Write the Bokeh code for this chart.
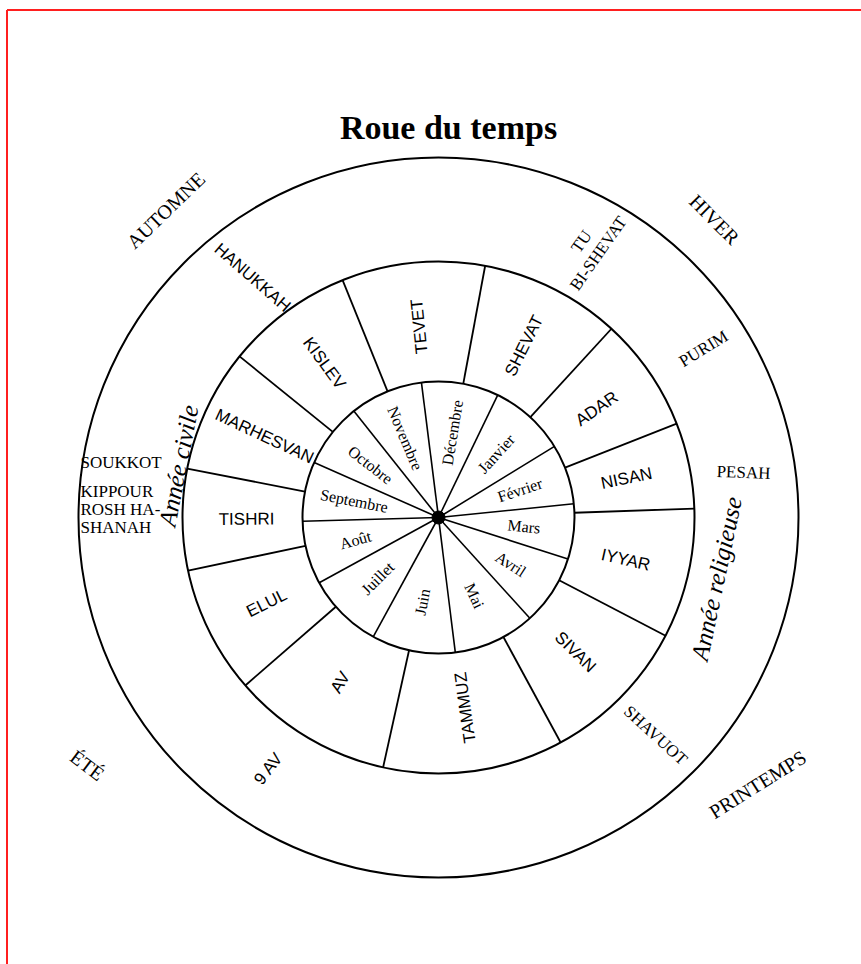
import math
from bokeh.plotting import figure
from bokeh.models import Range1d, ColumnDataSource
from bokeh.core.properties import value
from bokeh.embed import file_html
from bokeh.resources import INLINE

# ---------------- data ----------------
title_text = "Roue du temps"

# Hebrew (religious) months, clockwise from the top; start angle of each cell (degrees, clockwise from 12 o'clock)
hebrew_months = ["TEVET", "SHEVAT", "ADAR", "NISAN", "IYYAR", "SIVAN",
                 "TAMMUZ", "AV", "ELUL", "TISHRI", "MARHESVAN", "KISLEV"]
hebrew_start = [338.0, 10.5, 42.5, 68.5, 88.0, 117.5,
                151.5, 192.5, 229.0, 258.0, 281.0, 309.0]

# Civil months, clockwise from the top; start angle of each sector
civil_months = ["Décembre", "Janvier", "Février", "Mars", "Avril", "Mai",
                "Juin", "Juillet", "Août", "Septembre", "Octobre", "Novembre"]
civil_start = [352.8, 25.8, 58.5, 84.2, 107.8, 137.8,
               172.9, 208.7, 241.3, 268.4, 293.9, 321.5]

# Festivals in the outer ring (angle clockwise from top, distance from centre, text rotation)
festivals = ["HANUKKAH", "BI-SHEVAT", "TU", "PURIM", "PESAH", "SHAVUOT", "9 AV"]
festival_angle = [322.2, 31.2, 27.4, 57.5, 81.6, 135.1, 214.1]
festival_radius = [303.6, 308.7, 310.8, 314.3, 308.3, 307.6, 303.2]
festival_rot = [-41.0, 55.0, 55.0, 31.5, -2.0, -42.5, 52.0]
festival_sans = [True, False, False, False, False, False, True]

# Autumn festivals block (left side)
autumn_lines = ["SOUKKOT", "KIPPOUR", "ROSH HA-", "SHANAH"]

# Seasons, outside the wheel
seasons = ["AUTOMNE", "HIVER", "PRINTEMPS", "ÉTÉ"]
season_angle = [318.4, 42.8, 129.9, 234.8]
season_radius = [410.8, 406.2, 416.0, 429.8]
season_rot = [44.0, -45.0, 32.0, -37.0]

# Year captions
years = ["Année civile", "Année religieuse"]
year_angle = [281.3, 102.4]
year_radius = [265.1, 284.6]
year_rot = [79.0, 78.0]

# ---------------- layout ----------------
W, H = 861, 964
CX, CY = 438.0, 447.0          # wheel centre
R_OUT, R_MID, R_IN = 360.0, 256.0, 136.0
R_HEB_LABEL, R_CIV_LABEL = 192.0, 86.0
SERIF = "Liberation Serif"
SANS = "Liberation Sans"


def polar(cw_deg, r):
    a = math.radians(cw_deg)
    return CX + r * math.sin(a), CY + r * math.cos(a)


def mid_angle(starts, i):
    s = starts[i]
    e = starts[(i + 1) % len(starts)]
    span = (e - s) % 360.0
    return (s + span / 2.0) % 360.0


def label_rotation(cw_deg):
    ang = 90.0 - cw_deg
    if 160.0 < cw_deg < 345.0:
        ang += 180.0
    return math.radians(ang)


p = figure(width=W, height=H, x_range=Range1d(0, W), y_range=Range1d(0, H),
           output_backend="svg", toolbar_location=None, min_border=0,
           x_axis_type=None, y_axis_type=None)
p.grid.visible = False
p.outline_line_color = None
p.background_fill_color = "white"
p.border_fill_color = "white"

# red frame (top and left edges)
p.segment(x0=[6.5, 6.5], y0=[954.5, 0], x1=[W, 6.5], y1=[954.5, 954.5],
          line_color="#ff1f1f", line_width=2)

# circles
p.circle(x=[CX] * 3, y=[CY] * 3, radius=[R_OUT, R_MID, R_IN],
         fill_color=None, line_color="black", line_width=2)

# hebrew month cell borders
hx0, hy0, hx1, hy1 = [], [], [], []
for a in hebrew_start:
    x0, y0 = polar(a, R_IN)
    x1, y1 = polar(a, R_MID)
    hx0.append(x0); hy0.append(y0); hx1.append(x1); hy1.append(y1)
p.segment(x0=hx0, y0=hy0, x1=hx1, y1=hy1, line_color="black", line_width=1.8)

# civil month spokes
cx0, cy0, cx1, cy1 = [], [], [], []
for a in civil_start:
    x1, y1 = polar(a, R_IN)
    cx0.append(CX); cy0.append(CY); cx1.append(x1); cy1.append(y1)
p.segment(x0=cx0, y0=cy0, x1=cx1, y1=cy1, line_color="black", line_width=1.6)

p.scatter(x=[CX], y=[CY], size=13, color="black")

# hebrew labels
hl = dict(x=[], y=[], t=[], a=[])
for i, name in enumerate(hebrew_months):
    m = mid_angle(hebrew_start, i)
    x, y = polar(m, R_HEB_LABEL)
    hl["x"].append(x); hl["y"].append(y); hl["t"].append(name)
    hl["a"].append(label_rotation(m))
p.text(x="x", y="y", text="t", angle="a", source=ColumnDataSource(hl),
       text_font=value(SANS), text_font_size="17px", text_align="center",
       text_baseline="middle", text_color="black")

# civil labels
cl = dict(x=[], y=[], t=[], a=[])
for i, name in enumerate(civil_months):
    m = mid_angle(civil_start, i)
    x, y = polar(m, R_CIV_LABEL)
    cl["x"].append(x); cl["y"].append(y); cl["t"].append(name)
    cl["a"].append(label_rotation(m))
p.text(x="x", y="y", text="t", angle="a", source=ColumnDataSource(cl),
       text_font=value(SERIF), text_font_size="16px", text_align="center",
       text_baseline="middle", text_color="black")

# festivals
for i, name in enumerate(festivals):
    x, y = polar(festival_angle[i], festival_radius[i])
    p.text(x=[x], y=[y], text=[name], angle=[math.radians(festival_rot[i])],
           text_font=value(SANS if festival_sans[i] else SERIF),
           text_font_size="17px", text_align="center", text_baseline="middle",
           text_color="black")

# autumn block
ay = [502, 473, 455, 437]
p.text(x=[80] * 4, y=ay, text=autumn_lines, text_font=value(SERIF),
       text_font_size="17px", text_align="left", text_baseline="middle",
       text_color="black")

# seasons
sl = dict(x=[], y=[], t=[], a=[])
for i, name in enumerate(seasons):
    x, y = polar(season_angle[i], season_radius[i])
    sl["x"].append(x); sl["y"].append(y); sl["t"].append(name)
    sl["a"].append(math.radians(season_rot[i]))
p.text(x="x", y="y", text="t", angle="a", source=ColumnDataSource(sl),
       text_font=value(SERIF), text_font_size="20px", text_align="center",
       text_baseline="middle", text_color="black")

# year captions
yl = dict(x=[], y=[], t=[], a=[])
for i, name in enumerate(years):
    x, y = polar(year_angle[i], year_radius[i])
    yl["x"].append(x); yl["y"].append(y); yl["t"].append(name)
    yl["a"].append(math.radians(year_rot[i]))
p.text(x="x", y="y", text="t", angle="a", source=ColumnDataSource(yl),
       text_font=value(SERIF), text_font_style="italic", text_font_size="25px",
       text_align="center", text_baseline="middle", text_color="black")

# title
p.text(x=[448], y=[837], text=[title_text], text_font=value(SERIF),
       text_font_style="bold", text_font_size="34px", text_align="center",
       text_baseline="middle", text_color="black")

open("out.html", "w").write(file_html(p, INLINE))
